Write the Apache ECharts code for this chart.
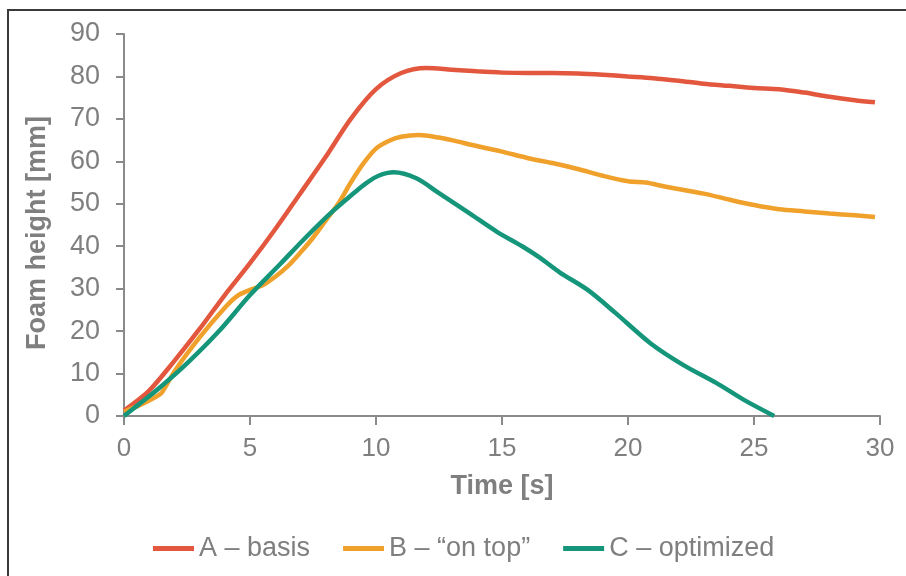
<!DOCTYPE html>
<html>
<head>
<meta charset="utf-8">
<script src="https://cdn.jsdelivr.net/npm/echarts@6/dist/echarts.min.js"></script>
<style>
html,body{margin:0;padding:0;background:#fff;}
#chart{position:absolute;left:0;top:0;width:906px;height:576px;}
#frame{position:absolute;left:7px;top:9px;width:920px;height:600px;border-left:2px solid #3a3a3a;border-top:2px solid #3a3a3a;pointer-events:none;}
</style>
</head>
<body>
<div id="chart"></div>
<div id="frame"></div>
<script>
// Series names
const seriesNames = ['A \u2013 basis', 'B \u2013 \u201Con top\u201D', 'C \u2013 optimized'];

// A – basis
const timeA = [0, 1, 2, 3, 4, 5, 6, 7, 8, 9, 10, 11, 12, 13, 14, 15, 16, 17, 18, 19, 20, 21, 22, 23, 24, 25, 26, 27, 28, 29, 29.8];
const heightA = [1.3, 6, 13, 20.5, 28.5, 36, 44, 52.5, 61, 70, 77, 80.8, 82, 81.6, 81.2, 80.9, 80.8, 80.8, 80.7, 80.4, 80, 79.6, 79, 78.3, 77.8, 77.3, 77, 76.2, 75.2, 74.4, 73.9];

// B – "on top"
const timeB = [0, 0.6, 1.2, 1.5, 2, 3, 4, 4.5, 5, 5.5, 6, 6.5, 7, 7.5, 8, 8.5, 9, 9.5, 10, 10.5, 11, 11.7, 12.5, 13, 14, 15, 16, 17, 18, 19, 20, 20.7, 21.5, 23, 24, 25, 26, 27, 28, 29, 29.8];
const heightB = [1, 2.5, 4.3, 5.5, 10.5, 18.5, 25.5, 28.3, 29.7, 30.8, 32.8, 35.3, 38.5, 42, 46, 50, 55, 59.5, 63, 64.8, 65.8, 66.2, 65.6, 65, 63.6, 62.3, 60.8, 59.6, 58.2, 56.6, 55.3, 55, 54, 52.4, 51, 49.7, 48.7, 48.2, 47.7, 47.3, 46.9];

// C – optimized
const timeC = [0, 0.6, 1.4, 2.5, 3.8, 5, 6.2, 7.2, 8.2, 9.1, 9.6, 10.1, 10.7, 11.6, 12.5, 13.7, 14.8, 15.8, 16.5, 17.3, 18.4, 19.5, 20.9, 22.2, 23.5, 24.6, 25.8];
const heightC = [0, 2.8, 6.6, 12.4, 20.2, 28.5, 35.8, 42, 47.8, 52.4, 54.8, 56.6, 57.4, 56, 52.5, 47.8, 43.4, 40, 37.3, 33.8, 29.7, 24.3, 17.1, 12, 7.8, 3.8, 0];

const colors = ['#E2573D', '#F0A12C', '#15967A'];

function pairs(t, v) { return t.map((x, i) => [x, v[i]]); }

const chart = echarts.init(document.getElementById('chart'), null, {renderer: 'canvas'});
const axisColor = '#8a8a8a';
const textColor = '#7f7f7f';
const font = 'Liberation Sans, Arial, sans-serif';

chart.setOption({
  animation: false,
  color: colors,
  textStyle: {fontFamily: font},
  grid: {left: 124, right: 26, top: 34, bottom: 160},
  legend: {
    left: 153, top: 535, padding: 0,
    itemWidth: 41, itemHeight: 5, itemGap: 33,
    icon: 'rect',
    textStyle: {color: textColor, fontSize: 27, fontFamily: font},
    data: seriesNames
  },
  xAxis: {
    type: 'value', min: 0, max: 30, interval: 5,
    name: 'Time [s]', nameLocation: 'middle', nameGap: 57,
    nameTextStyle: {color: textColor, fontSize: 27, fontWeight: 'bold', fontFamily: font},
    axisLine: {show: true, lineStyle: {color: axisColor, width: 2}},
    axisTick: {show: true, length: 9, lineStyle: {color: axisColor, width: 2}},
    axisLabel: {color: textColor, fontSize: 26, margin: 20, fontFamily: font},
    splitLine: {show: false}
  },
  yAxis: {
    type: 'value', min: 0, max: 90, interval: 10,
    name: 'Foam height [mm]', nameLocation: 'middle', nameGap: 73, nameRotate: 90,
    nameTextStyle: {color: textColor, fontSize: 27, fontWeight: 'bold', fontFamily: font, padding: [0, 16, 0, 0]},
    axisLine: {show: true, lineStyle: {color: axisColor, width: 2}},
    axisTick: {show: true, length: 8, lineStyle: {color: axisColor, width: 2}},
    axisLabel: {color: textColor, fontSize: 27, margin: 24, fontFamily: font},
    splitLine: {show: false}
  },
  series: [
    {name: seriesNames[0], type: 'line', data: pairs(timeA, heightA), smooth: 0.3, showSymbol: false, lineStyle: {width: 4.5, color: colors[0]}},
    {name: seriesNames[1], type: 'line', data: pairs(timeB, heightB), smooth: 0.3, showSymbol: false, lineStyle: {width: 4.5, color: colors[1]}},
    {name: seriesNames[2], type: 'line', data: pairs(timeC, heightC), smooth: 0.3, showSymbol: false, lineStyle: {width: 4.5, color: colors[2]}}
  ]
});
</script>
</body>
</html>
